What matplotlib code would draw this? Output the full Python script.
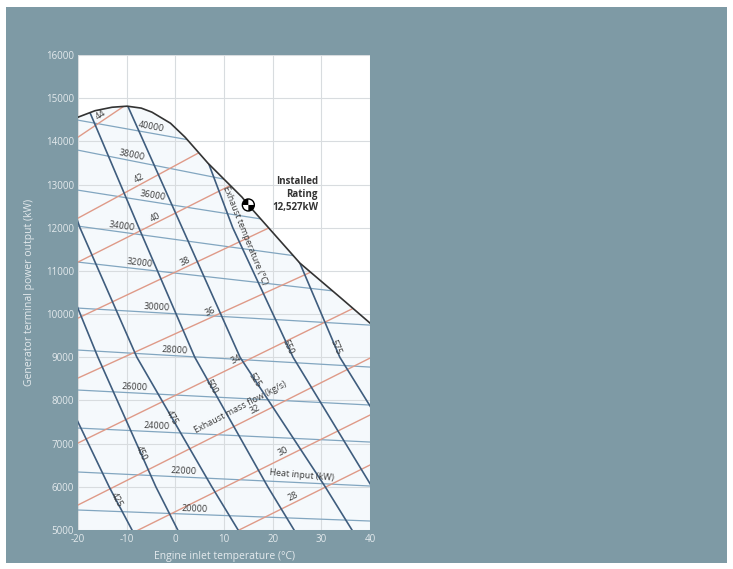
import numpy as np
import matplotlib.pyplot as plt
from matplotlib.patches import Polygon, Rectangle, Wedge, Circle
from matplotlib import transforms

plt.rcParams['font.family'] = ['Open Sans', 'DejaVu Sans']

# operating envelope (top boundary), inlet temp (C) vs power (kW)
env_T = [-20, -16.5, -13.0, -9.9, -7.0, -4.8, -1.0, 2.0, 6.7, 13.7, 15.0, 25.6, 33.8, 40]
env_P = [14560, 14710, 14790, 14815, 14770, 14676, 14420, 14097, 13495, 12708, 12527, 11180, 10394, 9792]

# heat input lines (kW): power at -20 C and at 40 C
heat_vals = [40000, 38000, 36000, 34000, 32000, 30000, 28000, 26000, 24000, 22000, 20000]
heat_P_left = [14491, 13796, 12870, 12037, 11204, 10139, 9167, 8241, 7361, 6343, 5463]
heat_P_right = [13287, 12454, 11806, 11111, 10440, 9745, 8773, 7894, 7037, 6019, 5208]
heat_label_T = [-5.2, -9.1, -4.8, -11.0, -7.3, -3.8, -0.1, -8.3, -3.8, 1.6, 4.0]

# exhaust mass flow lines (kg/s): power at -20 C and at 40 C
flow_vals = [44, 42, 40, 38, 36, 34, 32, 30, 28]
flow_P_left = [14097, 12222, 11204, 9907, 8519, 7014, 5579, 4306, 3148]
flow_P_right = [18657, 15880, 14606, 13102, 11597, 10324, 8981, 7662, 6505]
flow_label_T = [-14.9, -6.9, -3.8, 2.4, 7.5, 12.9, 16.8, 22.5, 24.6]

# exhaust temperature lines (C): inlet temp read at fixed power levels
exh_vals = [425, 450, 475, 500, 525, 550, 575]
exh_P = [15000, 12000, 9000, 6000, 5000]
exh_T = [
    [-46.1, -36.0, -26.4, -13.6, -8.9],
    [-36.8, -26.8, -15.9, -4.0, 0.5],
    [-29.0, -19.6, -7.9, 7.5, 12.9],
    [-18.8, -7.5, 4.0, 19.0, 24.4],
    [-10.5, 1.4, 13.3, 30.8, 36.3],
    [1.8, 11.8, 24.2, 40.4, 46.2],
    [12.3, 22.5, 33.8, 50.3, 56.0],
]
exh_label_P = [5694, 6782, 7616, 8310, 8472, 9236, 9236]

rating_T = 15
rating_P = 12527

panel = '#7e9aa5'
light = '#e4eaed'
c_exh = '#3f5d7e'
c_heat = '#82a6c0'
c_flow = '#df9a88'
c_txt = '#3a3a3a'

fig = plt.figure(figsize=(7.33, 5.69), dpi=100, facecolor='white')
fig.patches.append(Rectangle((6 / 733, 6 / 569), 721 / 733, 556 / 569,
                             transform=fig.transFigure, facecolor=panel,
                             edgecolor='none', zorder=-10))

ax = fig.add_axes([78 / 733, 39 / 569, 292 / 733, 475 / 569])
ax.set_xlim(-20, 40)
ax.set_ylim(5000, 16000)
ax.set_facecolor('white')
for s in ax.spines.values():
    s.set_visible(False)

ax.set_xticks(range(-20, 41, 10))
ax.set_xticklabels(['-20', '-10', '0', '10', '20', '30', '40'])
ax.set_yticks(range(5000, 16001, 1000))
ax.tick_params(length=0, labelsize=7, colors=light, pad=3)
ax.grid(True, color='#d8dcdf', lw=0.8)
ax.set_axisbelow(True)
ax.set_xlabel('Engine inlet temperature (°C)', color=light, fontsize=7.5, labelpad=4)
ax.set_ylabel('Generator terminal power output (kW)', color=light, fontsize=7.5, labelpad=8)

# envelope region used for fill and clipping
poly_pts = list(zip(env_T, env_P)) + [(40, 4000), (-20, 4000)]
env_fill = Polygon(poly_pts, closed=True, facecolor='#f5f9fc', edgecolor='none', zorder=0.5)
ax.add_patch(env_fill)
clip = Polygon(poly_pts, closed=True, transform=ax.transData)


def angle_of(x1, y1, x2, y2):
    p1 = ax.transData.transform((x1, y1))
    p2 = ax.transData.transform((x2, y2))
    a = np.degrees(np.arctan2(p2[1] - p1[1], p2[0] - p1[0]))
    if a > 90:
        a -= 180
    if a <= -90:
        a += 180
    return a


# heat input
for v, pl, pr, lt in zip(heat_vals, heat_P_left, heat_P_right, heat_label_T):
    ln, = ax.plot([-20, 40], [pl, pr], color=c_heat, lw=0.9, zorder=2)
    ln.set_clip_path(clip)
    py = np.interp(lt, [-20, 40], [pl, pr])
    ax.annotate(f'{v}', (lt, py), xytext=(0, 1), textcoords='offset points',
                ha='center', va='bottom', fontsize=6.5, color=c_txt,
                rotation=angle_of(-20, pl, 40, pr), rotation_mode='anchor', zorder=5)

# exhaust mass flow
for v, pl, pr, lt in zip(flow_vals, flow_P_left, flow_P_right, flow_label_T):
    ln, = ax.plot([-20, 40], [pl, pr], color=c_flow, lw=1.0, zorder=3)
    ln.set_clip_path(clip)
    py = np.interp(lt, [-20, 40], [pl, pr])
    ax.annotate(f'{v}', (lt, py), xytext=(0, 1), textcoords='offset points',
                ha='center', va='bottom', fontsize=6.5, color=c_txt,
                rotation=angle_of(-20, pl, 40, pr), rotation_mode='anchor', zorder=5)

# exhaust temperature
for v, ts, lp in zip(exh_vals, exh_T, exh_label_P):
    ln, = ax.plot(ts, exh_P, color=c_exh, lw=1.2, zorder=4)
    ln.set_clip_path(clip)
    tx = np.interp(lp, exh_P[::-1], ts[::-1])
    i = np.searchsorted(-np.array(exh_P), -lp)
    i = min(max(i, 1), len(exh_P) - 1)
    rot = angle_of(ts[i - 1], exh_P[i - 1], ts[i], exh_P[i])
    ax.text(tx, lp, f'{v}', ha='center', va='center', fontsize=6.5, color=c_txt,
            rotation=rot, rotation_mode='anchor', zorder=5)

# envelope line
ax.plot(env_T, env_P, color='#333333', lw=1.2, zorder=6)

# family names
ax.text(14.4, 11830, 'Exhaust temperature (°C)', rotation=-68, rotation_mode='anchor',
        ha='center', va='center', fontsize=6.5, color=c_txt, zorder=5)
ax.text(13.3, 7850, 'Exhaust mass flow (kg/s)', rotation=27.5, rotation_mode='anchor',
        ha='center', va='center', fontsize=6.5, color=c_txt, zorder=5)
ax.text(26.0, 6273, 'Heat input (kW)', rotation=-5, rotation_mode='anchor',
        ha='center', va='center', fontsize=6.5, color=c_txt, zorder=5)

# installed rating marker
trans = fig.dpi_scale_trans + transforms.ScaledTranslation(rating_T, rating_P, ax.transData)
r = 0.06
ax.add_artist(Circle((0, 0), r, transform=trans, facecolor='white', edgecolor='black', lw=1, zorder=7))
ax.add_artist(Wedge((0, 0), r, 90, 180, transform=trans, facecolor='black', edgecolor='none', zorder=8))
ax.add_artist(Wedge((0, 0), r, 270, 360, transform=trans, facecolor='black', edgecolor='none', zorder=8))
ax.text(29.3, 12780, 'Installed\nRating\n12,527kW', ha='right', va='center', multialignment='right',
        fontsize=7, fontweight='bold', color='#333333', linespacing=1.25, zorder=7)

fig.savefig('out.png', dpi=100, facecolor=fig.get_facecolor())
